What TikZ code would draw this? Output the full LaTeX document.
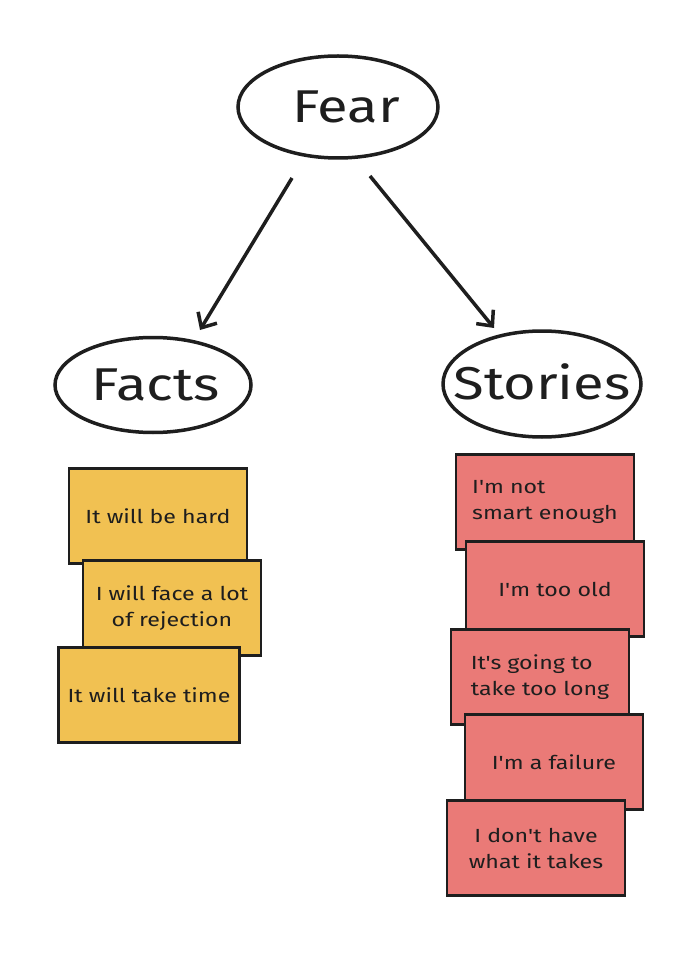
\documentclass[tikz,border=0pt]{standalone}
\usepackage{fontspec}
\setmainfont{Fira Sans}
\newfontfamily\handfont[FakeStretch=1.22]{Fira Sans}
\usetikzlibrary{shapes.geometric,arrows.meta}
\definecolor{noteyellow}{HTML}{F1C152}
\definecolor{notered}{HTML}{EA7A77}
\definecolor{inkc}{HTML}{1E1E1E}
\tikzset{
  bubble/.style={ellipse, draw=inkc, line width=3.5pt, fill=white, font=\handfont\fontsize{46}{50}\selectfont, text=inkc, inner sep=0pt},
  stickyY/.style={rectangle, draw=inkc, line width=2.6pt, fill=noteyellow, minimum width=178pt, minimum height=95pt, align=center, font=\handfont\fontsize{19}{26}\selectfont, text=inkc, inner sep=1pt},
  stickyR/.style={stickyY, fill=notered},
  link/.style={draw=inkc, line width=3.5pt, -{Straight Barb[length=12pt,width=22pt,line width=3.5pt]}}
}
\begin{document}
\begin{tikzpicture}[x=1pt,y=-1pt]
\useasboundingbox (0,0) rectangle (697,965);
\fill[white] (0,0) rectangle (697,965);
\node[bubble, minimum width=200pt, minimum height=102pt] (fear) at (338,107) {\makebox[0pt]{\hspace{16pt}Fear}};
\node[bubble, minimum width=196pt, minimum height=95pt] (facts) at (153,385) {\makebox[0pt]{\hspace{6pt}Facts}};
\node[bubble, minimum width=198pt, minimum height=106pt] (stories) at (542,384) {\makebox[0pt]{\raisebox{5pt}{Stories}}};
\coordinate (a1s) at (292,178);
\coordinate (a1e) at (200,330);
\coordinate (a2s) at (370,176);
\coordinate (a2e) at (494,328);
\draw[link] (a1s) -- (a1e);
\draw[link] (a2s) -- (a2e);
% yellow notes
\node[stickyY] (y1) at (158,516) {It will be hard};
\node[stickyY] (y2) at (172,608) {I will face a lot\\of rejection};
\node[stickyY, minimum width=181pt] (y3) at (149,695) {It will take time};
% red notes
\node[stickyR, align=left] (r1) at (545,502) {I'm not\\smart enough};
\node[stickyR] (r2) at (555,589) {I'm too old};
\node[stickyR, align=left] (r3) at (540,677) {It's going to\\take too long};
\node[stickyR] (r4) at (554,762) {I'm a failure};
\node[stickyR] (r5) at (536,848) {I don't have\\what it takes};
\end{tikzpicture}
\end{document}
